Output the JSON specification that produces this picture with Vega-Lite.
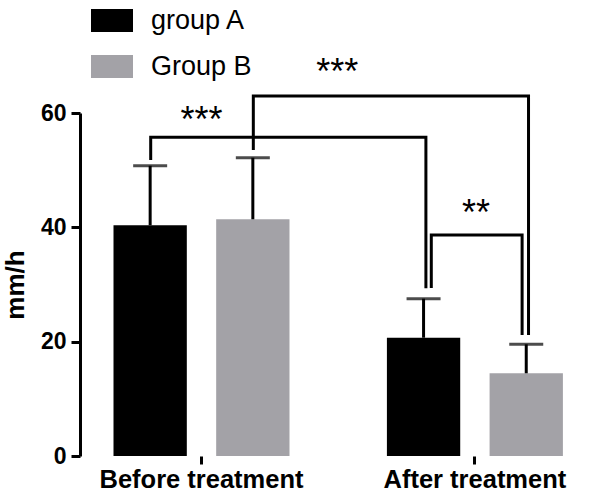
{
  "$schema": "https://vega.github.io/schema/vega-lite/v6.json",
  "width": 498,
  "height": 343,
  "autosize": "none",
  "padding": {"left": 80, "top": 113, "right": 22, "bottom": 43},
  "background": "white",
  "config": {
    "view": {"stroke": null},
    "font": "Liberation Sans"
  },
  "datasets": {
    "bars": [
      {"time": "Before treatment", "group": "group A", "mean": 40.36, "upper": 50.78},
      {"time": "Before treatment", "group": "Group B", "mean": 41.41, "upper": 52.18},
      {"time": "After treatment", "group": "group A", "mean": 20.69, "upper": 27.52},
      {"time": "After treatment", "group": "Group B", "mean": 14.47, "upper": 19.54}
    ],
    "brackets": [
      {"bracket": "b1", "ord": 1, "time": "Before treatment", "off": -0.99, "level": 51.78},
      {"bracket": "b1", "ord": 2, "time": "Before treatment", "off": -0.99, "level": 55.75},
      {"bracket": "b1", "ord": 3, "time": "After treatment", "off": -0.955, "level": 55.75},
      {"bracket": "b1", "ord": 4, "time": "After treatment", "off": -0.955, "level": 29.34},
      {"bracket": "b2", "ord": 1, "time": "Before treatment", "off": 1.01, "level": 53.53},
      {"bracket": "b2", "ord": 2, "time": "Before treatment", "off": 1.01, "level": 62.97},
      {"bracket": "b2", "ord": 3, "time": "After treatment", "off": 1.045, "level": 62.97},
      {"bracket": "b2", "ord": 4, "time": "After treatment", "off": 1.045, "level": 21.17},
      {"bracket": "b3", "ord": 1, "time": "After treatment", "off": -0.85, "level": 29.39},
      {"bracket": "b3", "ord": 2, "time": "After treatment", "off": -0.85, "level": 38.66},
      {"bracket": "b3", "ord": 3, "time": "After treatment", "off": 0.92, "level": 38.66},
      {"bracket": "b3", "ord": 4, "time": "After treatment", "off": 0.92, "level": 21.17}
    ],
    "stars": [
      {"time": "Before treatment", "off": 0, "level": 56.7, "label": "***"},
      {"time": "Before treatment", "off": 2.645, "level": 65.1, "label": "***"},
      {"time": "After treatment", "off": 0.02, "level": 40.44, "label": "**"}
    ]
  },
  "layer": [
    {
      "data": {"name": "bars"},
      "mark": {"type": "bar"},
      "encoding": {
        "x": {
          "field": "time", "type": "nominal",
          "sort": ["Before treatment", "After treatment"],
          "scale": {"domain": ["Before treatment", "After treatment"], "range": [33.5, 482.9], "paddingInner": 0.3563, "paddingOuter": 0},
          "axis": {
            "title": null, "domain": false, "labelAngle": 0, "labelLimit": 400,
            "labelFont": "Liberation Sans", "labelFontSize": 25.5, "labelFontWeight": "bold", "labelColor": "black",
            "tickSize": 8, "tickWidth": 3, "tickColor": "black", "labelPadding": 3, "labelBaseline": "top"
          }
        },
        "xOffset": {
          "field": "group", "type": "nominal",
          "scale": {"domain": ["group A", "Group B"], "paddingInner": 0.286, "paddingOuter": 0}
        },
        "y": {
          "field": "mean", "type": "quantitative",
          "scale": {"domain": [0, 60], "nice": false},
          "axis": {
            "title": "mm/h", "titleFont": "Liberation Sans", "titleFontSize": 26, "titleFontWeight": "bold", "titleColor": "black", "titlePadding": 12,
            "values": [0, 20, 40, 60], "grid": false,
            "labelFont": "Liberation Sans", "labelFontSize": 23, "labelFontWeight": "bold", "labelColor": "black", "labelPadding": 5,
            "tickSize": 9, "tickWidth": 3, "tickColor": "black", "domainWidth": 3, "domainColor": "black"
          }
        },
        "color": {
          "field": "group", "type": "nominal",
          "scale": {"domain": ["group A", "Group B"], "range": ["#000000", "#a3a2a7"]},
          "legend": {
            "title": null, "orient": "none", "legendX": 11, "legendY": -113.5, "padding": 0,
            "symbolType": "M-1,-0.548H1V0.548H-1Z", "symbolSize": 1764, "symbolStrokeWidth": 0,
            "labelFont": "Liberation Sans", "labelFontSize": 27, "labelColor": "black", "labelOffset": 18,
            "rowPadding": 12
          }
        }
      }
    },
    {
      "data": {"name": "bars"},
      "mark": {"type": "rule", "color": "black", "strokeWidth": 3},
      "encoding": {
        "x": {"field": "time", "type": "nominal"},
        "xOffset": {"field": "group", "type": "nominal", "scale": {"domain": ["group A", "Group B"], "paddingInner": 0.286, "paddingOuter": 0}},
        "y": {"field": "mean", "type": "quantitative"},
        "y2": {"field": "upper"}
      }
    },
    {
      "data": {"name": "bars"},
      "mark": {"type": "tick", "color": "black", "thickness": 3, "size": 34, "orient": "horizontal"},
      "encoding": {
        "x": {"field": "time", "type": "nominal"},
        "xOffset": {"field": "group", "type": "nominal", "scale": {"domain": ["group A", "Group B"], "paddingInner": 0.286, "paddingOuter": 0}},
        "y": {"field": "upper", "type": "quantitative"}
      }
    },
    {
      "data": {"name": "brackets"},
      "mark": {"type": "line", "color": "black", "strokeWidth": 3, "strokeJoin": "miter", "strokeCap": "butt"},
      "encoding": {
        "x": {"field": "time", "type": "nominal"},
        "xOffset": {"field": "off", "type": "quantitative", "scale": {"domain": [-1.715, 1.715]}},
        "y": {"field": "level", "type": "quantitative"},
        "detail": {"field": "bracket"},
        "order": {"field": "ord", "type": "quantitative"}
      }
    },
    {
      "data": {"name": "stars"},
      "mark": {"type": "text", "font": "Liberation Sans", "fontSize": 36, "color": "black", "baseline": "alphabetic", "align": "center"},
      "encoding": {
        "x": {"field": "time", "type": "nominal"},
        "xOffset": {"field": "off", "type": "quantitative", "scale": {"domain": [-1.715, 1.715]}},
        "y": {"field": "level", "type": "quantitative"},
        "text": {"field": "label"}
      }
    },
    {
      "mark": {"type": "rule", "color": "black", "strokeWidth": 3},
      "encoding": {"y": {"datum": 0}}
    }
  ],
  "resolve": {"scale": {"xOffset": "independent"}}
}
